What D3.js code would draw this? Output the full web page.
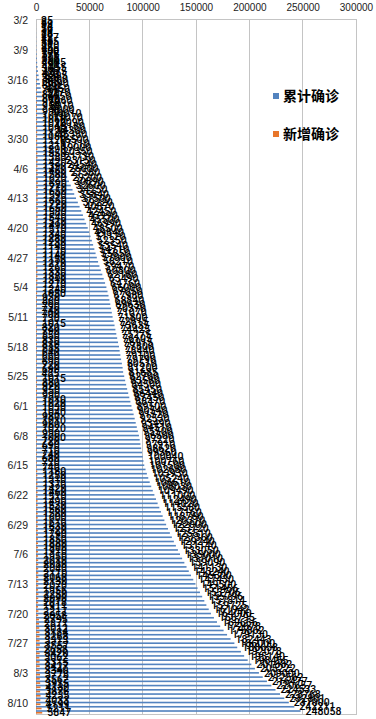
<!DOCTYPE html>
<html><head><meta charset="utf-8">
<script src="https://cdn.jsdelivr.net/npm/d3@7/dist/d3.min.js"></script>
<style>
html,body{margin:0;padding:0;background:#fff;}
svg{display:block;}
</style></head>
<body>
<svg id="chart" width="376" height="719"></svg>
<script>
// ---- data ----
const seriesNames = ["累计确诊", "新增确诊"];
const xTicks = [0, 50000, 100000, 150000, 200000, 250000, 300000];

const dates = [];
(function(){
  const months = [[3,2,31],[4,1,30],[5,1,31],[6,1,30],[7,1,31],[8,1,12]];
  months.forEach(([m,s,e]) => { for (let d=s; d<=e; d++) dates.push(m + "/" + d); });
})();

const cumulative = [
  25, 39, 58, 86, 127, 185, 270, 400,
  575, 805, 1095, 1455, 1875, 2395, 3000,
  3690, 4450, 5270, 6150, 7060, 8010, 9000,
  10010, 11070, 12090, 13180, 14300, 15380, 16500,
  17710, 19000, 20350, 21730, 23150, 24540, 26000,
  27580, 29200, 30890, 32600, 34250, 35840, 37500,
  39220, 40870, 42450, 43990, 45500, 46990, 48500,
  49840, 51120, 52350, 53540, 54710, 55850, 57000,
  58210, 59470, 60800, 62180, 63490, 64760, 66000,
  67050, 67980, 68840, 69630, 70370, 71070, 71800,
  72815, 73635, 74425, 75275, 76105, 76915, 77800,
  78440, 79100, 79790, 80510, 81200, 81685, 82700,
  83580, 84500, 85450, 86440, 87450, 88470, 89500,
  90540, 91520, 92530, 93490, 94510, 95500, 96500,
  97220, 97910, 98620, 99360, 100040, 100760, 101500,
  102680, 103930, 105240, 106610, 108030, 109490, 111000,
  112490, 114020, 115580, 117160, 118760, 120370, 122000,
  123720, 125510, 127360, 129240, 131140, 133050, 135000,
  137010, 139090, 141130, 143240, 145300, 147430, 149500,
  151456, 153706, 155796, 157814, 159725, 161942, 164000,
  166795, 169666, 172678, 175862, 179130, 182443, 186000,
  188658, 192078, 195140, 198455, 201882, 205222, 209000,
  212562, 216477, 220657, 224533, 228768, 232801, 237000,
  242211, 248058
];

const newCases = [
  8, 14, 19, 28, 41, 58, 85, 130,
  175, 230, 290, 360, 420, 520, 605,
  690, 760, 820, 880, 910, 950, 990,
  1010, 1060, 1020, 1090, 1120, 1080, 1120,
  1210, 1290, 1350, 1380, 1420, 1390, 1460,
  1580, 1620, 1690, 1710, 1650, 1590, 1660,
  1720, 1650, 1580, 1540, 1510, 1490, 1510,
  1340, 1280, 1230, 1190, 1170, 1140, 1150,
  1210, 1260, 1330, 1380, 1310, 1270, 1240,
  1050, 930, 860, 790, 740, 700, 730,
  1015, 820, 790, 850, 830, 810, 885,
  640, 660, 690, 720, 690, 485, 1015,
  880, 920, 950, 990, 1010, 1020, 1030,
  1040, 980, 1010, 960, 1020, 990, 1000,
  720, 690, 710, 740, 680, 720, 740,
  1180, 1250, 1310, 1370, 1420, 1460, 1510,
  1490, 1530, 1560, 1580, 1600, 1610, 1630,
  1720, 1790, 1850, 1880, 1900, 1910, 1950,
  2010, 2080, 2040, 2110, 2060, 2130, 2070,
  1956, 2250, 2090, 2018, 1911, 2217, 2058,
  2795, 2871, 3012, 3184, 3268, 3313, 3557,
  2658, 3420, 3062, 3315, 3427, 3340, 3778,
  3562, 3915, 4180, 3876, 4235, 4033, 4199,
  5211, 5847
];

const colors = ["#5383bf", "#e8762b"];

// ---- layout ----
const svg = d3.select("#chart");
const plot = {left: 36, right: 356, top: 19, bottom: 714};

const x = d3.scaleLinear().domain([0, 300000]).range([plot.left, plot.right]);
const y = d3.scaleBand().domain(dates).range([plot.top, plot.bottom]).paddingInner(0).paddingOuter(0);
const sub = d3.scaleBand().domain(seriesNames).range([0, y.bandwidth()]).paddingInner(0.08).paddingOuter(0.25);

// gridlines
svg.append("g").selectAll("line").data(xTicks).join("line")
  .attr("x1", d => x(d)).attr("x2", d => x(d))
  .attr("y1", plot.top).attr("y2", plot.bottom)
  .attr("stroke", "#c4c4c4").attr("stroke-width", 1)
  .attr("shape-rendering", "crispEdges");

svg.append("rect")
  .attr("x", plot.left).attr("y", plot.top)
  .attr("width", plot.right - plot.left).attr("height", plot.bottom - plot.top)
  .attr("fill", "none").attr("stroke", "#c4c4c4").attr("shape-rendering", "crispEdges");

// top axis
const xAxis = svg.append("g").attr("transform", `translate(0,${plot.top})`)
  .call(d3.axisTop(x).tickValues(xTicks).tickSize(0).tickPadding(8).tickFormat(d3.format("d")));
xAxis.select(".domain").remove();
xAxis.selectAll("text").attr("font-family", "Liberation Sans, Arial, sans-serif").attr("font-size", 10).attr("fill", "#222");

// left axis
const yAxis = svg.append("g").attr("transform", `translate(${plot.left},0)`)
  .call(d3.axisLeft(y).tickValues(dates.filter((d,i) => i % 7 === 0)).tickSize(0).tickPadding(8));
yAxis.select(".domain").remove();
yAxis.selectAll("text").attr("font-family", "Liberation Sans, Arial, sans-serif").attr("font-size", 10.5).attr("fill", "#222");

// bars
const seriesData = [cumulative, newCases];
seriesData.forEach((vals, si) => {
  svg.append("g").selectAll("rect").data(vals).join("rect")
    .attr("x", x(0))
    .attr("y", (d,i) => y(dates[i]) + sub(seriesNames[si]))
    .attr("width", d => x(d) - x(0))
    .attr("height", sub.bandwidth())
    .attr("fill", colors[si]);
});

// data labels
seriesData.forEach((vals, si) => {
  svg.append("g").selectAll("text").data(vals).join("text")
    .attr("x", d => x(d) + 5)
    .attr("y", (d,i) => y(dates[i]) + sub(seriesNames[si]) + sub.bandwidth()/2)
    .attr("dy", "0.35em")
    .attr("font-family", "Roboto, Liberation Sans, Arial, sans-serif")
    .attr("font-size", 10.5)
    .attr("font-weight", 500)
    .attr("fill", "#000")
    .text(d => d);
});

// legend
const legend = svg.append("g");
seriesNames.forEach((name, i) => {
  const cy = 96 + i * 38;
  legend.append("rect").attr("x", 273).attr("y", cy - 3).attr("width", 6).attr("height", 6).attr("fill", colors[i]);
  legend.append("text").attr("x", 283).attr("y", cy).attr("dy", "0.35em")
    .attr("font-family", "Noto Sans CJK SC, sans-serif").attr("font-weight", "bold")
    .attr("font-size", 14).attr("fill", "#000").text(name);
});
</script>
</body></html>
